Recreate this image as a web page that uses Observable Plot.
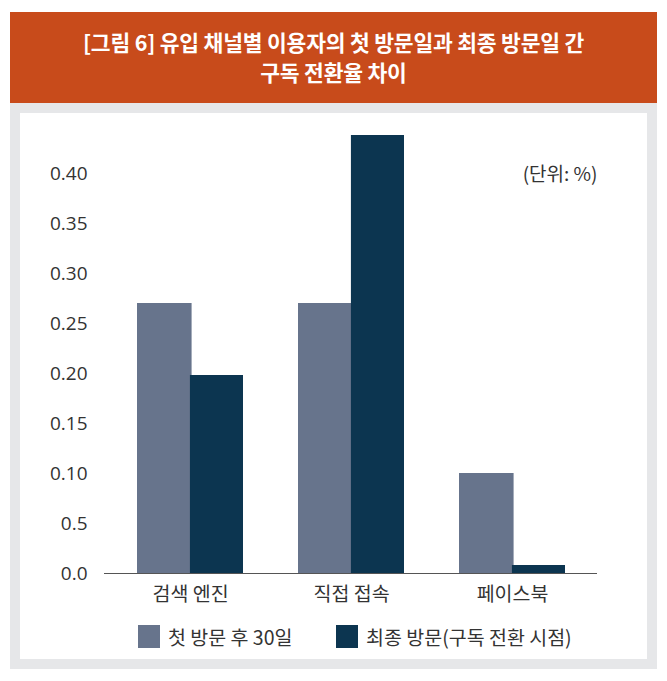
<!DOCTYPE html>
<html>
<head>
<meta charset="utf-8">
<script src="https://cdn.jsdelivr.net/npm/d3@7"></script>
<script src="https://cdn.jsdelivr.net/npm/@observablehq/plot@0.6"></script>
<style>
  html, body { margin: 0; padding: 0; background: #fff; }
  body { width: 667px; height: 681px; position: relative; font-family: "Open Sans", "Noto Sans CJK KR", sans-serif; }
  #card { position: absolute; left: 10px; top: 12px; width: 647px; }
  #header { background: #C84B1B; height: 91px; color: #fff; text-align: center;
    font-family: "Noto Sans CJK KR", sans-serif; font-weight: 700; font-size: 21.5px; line-height: 30px;
    box-sizing: border-box; padding-top: 15px; letter-spacing: -0.2px; }
  #frame { background: #E6E7E9; padding: 10px; height: 566px; box-sizing: border-box; }
  #panel { background: #fff; width: 627px; height: 546px; position: relative; }
  #legend { position: absolute; top: 495px; left: 0; width: 627px; height: 51px; }
  .item { position: absolute; top: 14px; display: flex; align-items: center; font-family: "Noto Sans CJK KR", sans-serif; font-size: 19.5px; color: #333; }
  .sw { width: 22px; height: 23px; margin-right: 8px; }
  svg { display: block; }
</style>
</head>
<body>
<div id="card">
  <div id="header">[그림 6] 유입 채널별 이용자의 첫 방문일과 최종 방문일 간<br>구독 전환율 차이</div>
  <div id="frame">
    <div id="panel">
      <div id="chart"></div>
      <div id="legend"></div>
    </div>
  </div>
</div>
<script>
const categories = ["검색 엔진", "직접 접속", "페이스북"];
const seriesNames = ["첫 방문 후 30일", "최종 방문(구독 전환 시점)"];
const firstVisit = [0.27, 0.27, 0.10];
const lastVisit = [0.198, 0.438, 0.008];
const tickValues = [0, 0.05, 0.10, 0.15, 0.20, 0.25, 0.30, 0.35, 0.40];
const tickLabels = ["0.0", "0.5", "0.10", "0.15", "0.20", "0.25", "0.30", "0.35", "0.40"];
const colors = ["#67748C", "#0C3550"];

const data = categories.flatMap((c, i) => [
  {category: c, series: seriesNames[0], value: firstVisit[i]},
  {category: c, series: seriesNames[1], value: lastVisit[i]}
]);

const W = 627, H = 495, mL = 84, mR = 50, mT = 20, mB = 35;
const pInner = 0.344, pOuter = 0.2;
const bw = d3.scaleBand().domain(categories).range([mL, W - mR]).paddingInner(pInner).paddingOuter(pOuter).bandwidth();

const chart = Plot.plot({
  width: W, height: H,
  marginLeft: mL, marginRight: mR, marginTop: mT, marginBottom: mB,
  style: {fontFamily: "'Open Sans', 'Noto Sans CJK KR', sans-serif", fontSize: "18px", color: "#333"},
  x: {domain: categories, paddingInner: pInner, paddingOuter: pOuter, label: null},
  y: {domain: [0, 0.44], label: null},
  marks: [
    Plot.barY(data.filter(d => d.series === seriesNames[0]), {x: "category", y: "value", fill: colors[0], insetRight: bw / 2 - 1.5}),
    Plot.barY(data.filter(d => d.series === seriesNames[1]), {x: "category", y: "value", fill: colors[1], insetLeft: bw / 2}),
    Plot.ruleY([0], {stroke: "#555", strokeWidth: 1}),
    Plot.axisY({ticks: tickValues, tickFormat: (d, i) => tickLabels[i], tickSize: 0, tickPadding: 17, label: null, fill: "#333", fontSize: 19, fontFamily: "'Open Sans', sans-serif"}),
    Plot.axisX({tickSize: 0, tickPadding: 14, label: null, fill: "#333", fontSize: 19.5, fontFamily: "'Noto Sans CJK KR', sans-serif"}),
    Plot.text(["(단위: %)"], {frameAnchor: "top-right", dy: 34, fill: "#333", fontSize: 19, fontFamily: "'Noto Sans CJK KR', sans-serif", textAnchor: "end"})
  ]
});
document.getElementById("chart").appendChild(chart);

const legend = document.getElementById("legend");
const lefts = [118, 316];
seriesNames.forEach((s, i) => {
  const it = document.createElement("div");
  it.className = "item";
  it.style.left = lefts[i] + "px";
  it.innerHTML = `<div class="sw" style="background:${colors[i]}"></div><span>${s}</span>`;
  legend.appendChild(it);
});
</script>
</body>
</html>
